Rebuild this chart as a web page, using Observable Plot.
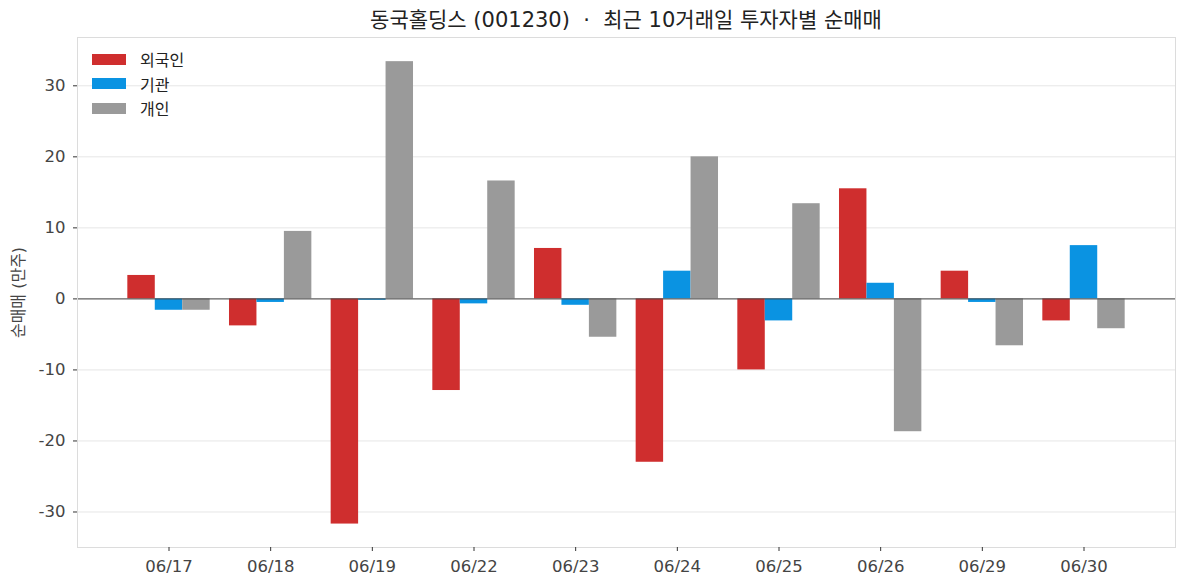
<!DOCTYPE html>
<html>
<head>
<meta charset="utf-8">
<script src="https://cdn.jsdelivr.net/npm/d3@7"></script>
<script src="https://cdn.jsdelivr.net/npm/@observablehq/plot@0.6"></script>
<style>
  html, body { margin: 0; padding: 0; background: #fff; }
  #wrap { position: relative; width: 1187px; height: 587px; font-family: "DejaVu Sans", "Noto Sans CJK KR", sans-serif; }
  #title { box-sizing: border-box; height: 36px; padding: 8px 12px 0 77px; line-height: 24px; text-align: center; font-size: 21px; color: #222; white-space: pre; }
  #legend { position: absolute; left: 92px; top: 47px; font-size: 16px; color: #222; }
  .item { display: flex; align-items: center; height: 24.5px; }
  .sw { width: 34px; height: 11px; margin-right: 14px; }
</style>
</head>
<body>
<div id="wrap">
  <div id="title">동국홀딩스 (001230)  ·  최근 10거래일 투자자별 순매매</div>
  <div id="chart"></div>
  <div id="legend"></div>
</div>
<script>
const dates = ["06/17","06/18","06/19","06/22","06/23","06/24","06/25","06/26","06/29","06/30"];
const seriesNames = ["외국인", "기관", "개인"];
const foreign = [3.3, -3.8, -31.7, -12.9, 7.1, -23.0, -10.0, 15.5, 3.9, -3.1];
const institution = [-1.6, -0.5, -0.2, -0.7, -0.9, 3.9, -3.1, 2.2, -0.5, 7.5];
const individual = [-1.6, 9.5, 33.4, 16.6, -5.4, 20.0, 13.4, -18.7, -6.6, -4.2];
const colors = ["#CF2E2E", "#0A93E2", "#9A9A9A"];
const yTicks = [-30, -20, -10, 0, 10, 20, 30];

const barWidth = 0.27;
const seriesValues = [foreign, institution, individual];
const rows = [];
seriesValues.forEach((vals, k) => {
  vals.forEach((v, i) => {
    const c = i + (k - 1) * barWidth;
    rows.push({series: seriesNames[k], x1: c - barWidth / 2, x2: c + barWidth / 2, value: v});
  });
});

const W = 1187, H = 551;
const mL = 77, mR = 12, mT = 1, mB = 40;
const font = '"DejaVu Sans", "Noto Sans CJK KR", sans-serif';

const plot = Plot.plot({
  width: W,
  height: H,
  marginLeft: mL,
  marginRight: mR,
  marginTop: mT,
  marginBottom: mB,
  style: {fontFamily: font, fontSize: "16.5px", color: "#444", background: "#fff"},
  x: {domain: [-0.9, 9.9]},
  y: {domain: [-35.0, 36.8]},
  color: {domain: seriesNames, range: colors},
  marks: [
    Plot.gridY(yTicks, {stroke: "#e6e6e6", strokeOpacity: 1}),
    Plot.rectY(rows, {x1: "x1", x2: "x2", y1: 0, y2: "value", fill: "series"}),
    Plot.ruleY([0], {stroke: "#444", strokeWidth: 1}),
    Plot.frame({stroke: "#dcdcdc"}),
    Plot.axisY(yTicks, {tickSize: 4, tickPadding: 8, stroke: "#333", fill: "#444", fontSize: 16.5,
      tickFormat: d => String(d), label: null}),
    Plot.axisX(d3.range(dates.length), {tickSize: 4, tickPadding: 9, stroke: "#333", fill: "#444", fontSize: 16.5,
      tickFormat: i => dates[i], label: null}),
    Plot.text(["순매매 (만주)"], {frameAnchor: "left", textAnchor: "middle", rotate: -90, dx: -59, fontSize: 16, fill: "#444", fontFamily: font})
  ]
});
document.getElementById("chart").appendChild(plot);

const leg = document.getElementById("legend");
seriesNames.forEach((n, k) => {
  const it = document.createElement("div");
  it.className = "item";
  const sw = document.createElement("div");
  sw.className = "sw";
  sw.style.background = colors[k];
  const tx = document.createElement("span");
  tx.textContent = n;
  it.appendChild(sw);
  it.appendChild(tx);
  leg.appendChild(it);
});
</script>
</body>
</html>
